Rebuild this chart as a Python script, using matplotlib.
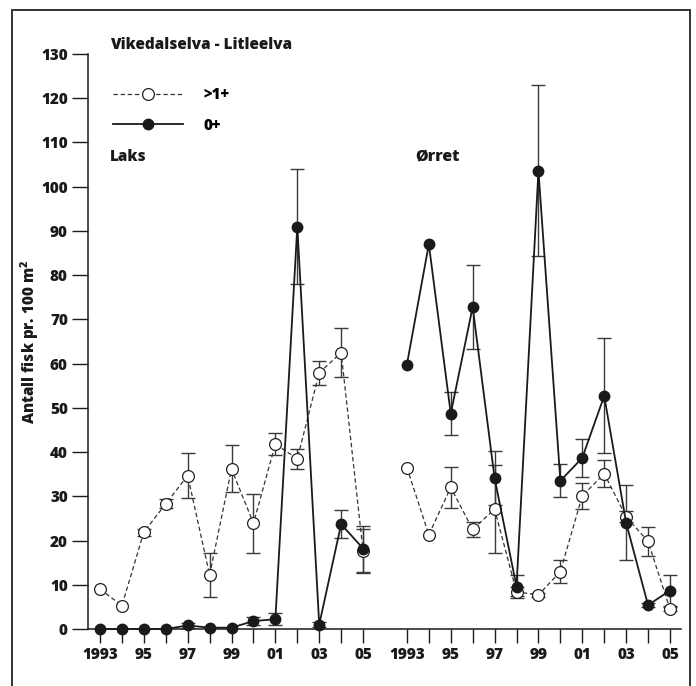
import numpy as np
import matplotlib
matplotlib.use("Agg")
import matplotlib.pyplot as plt
from matplotlib.lines import Line2D
from matplotlib.patches import Rectangle

# ---- data ----
year_labels = ["1993", "", "95", "", "97", "", "99", "", "01", "", "03", "", "05"]

laks_older = [9.0, 5.3, 21.9, 28.3, 34.7, 12.2, 36.2, 23.9, 41.8, 38.5, 57.9, 62.5, 17.6]
laks_older_err = [0, 0, 0.8, 1.0, 5.0, 5.0, 5.3, 6.7, 2.5, 2.3, 2.7, 5.5, 5.0]
laks_0 = [0, 0, 0, 0, 0.8, 0.3, 0.3, 1.8, 2.2, 91.0, 1.0, 23.7, 18.2]
laks_0_err = [0, 0, 0, 0, 0.5, 0, 0, 1.0, 1.4, 13.0, 0.5, 3.2, 5.2]

orret_older = [36.5, 21.3, 32.0, 22.5, 27.1, 8.4, 7.7, 13.0, 30.1, 35.1, 25.4, 19.8, 4.5]
orret_older_err = [0, 0, 4.7, 1.8, 10.0, 1.0, 0.5, 2.7, 3.0, 3.0, 1.3, 3.3, 0.5]
orret_0 = [59.8, 87.0, 48.7, 72.8, 34.1, 9.6, 103.6, 33.5, 38.7, 52.7, 24.0, 5.4, 8.7]
orret_0_err = [0, 0, 4.9, 9.5, 6.1, 2.5, 19.3, 3.7, 4.3, 13.0, 8.5, 0.5, 3.4]

yticks = list(range(0, 131, 10))

FONT = "Open Sans"
plt.rcParams["font.family"] = [FONT, "DejaVu Sans"]
plt.rcParams["font.weight"] = "heavy"
plt.rcParams["mathtext.fontset"] = "custom"
plt.rcParams["mathtext.rm"] = FONT + ":heavy"
plt.rcParams["mathtext.bf"] = FONT + ":heavy"

FS = 11
TXT = "#1a1a1a"

fig = plt.figure(figsize=(6.96, 6.86), dpi=100)
ax = fig.add_axes([88 / 696, 57 / 686, (680.5 - 88) / 696, (629 - 54) / 686])

n = len(year_labels)
x_laks = np.arange(n)
x_orret = np.arange(n) + n + 1

ecol = "#3a3a3a"


def draw(x, older, older_err, young, young_err):
    older = np.asarray(older, float)
    older_err = np.asarray(older_err, float)
    young = np.asarray(young, float)
    young_err = np.asarray(young_err, float)
    m = older_err > 0
    ax.errorbar(x[m], older[m], yerr=older_err[m], fmt="none", ecolor=ecol,
                elinewidth=1.0, capsize=5, capthick=1.0, zorder=2, clip_on=False)
    m = young_err > 0
    ax.errorbar(x[m], young[m], yerr=young_err[m], fmt="none", ecolor=ecol,
                elinewidth=1.0, capsize=5, capthick=1.0, zorder=2, clip_on=False)
    ax.plot(x, older, ls=(0, (3.5, 2.2)), lw=0.9, color="#333333", marker="o",
            ms=8.5, mfc="white", mec="#222222", mew=0.9, zorder=3, clip_on=False)
    ax.plot(x, young, ls="-", lw=1.3, color=TXT, marker="o",
            ms=7.5, mfc=TXT, mec=TXT, zorder=4, clip_on=False)


draw(x_laks, laks_older, laks_older_err, laks_0, laks_0_err)
draw(x_orret, orret_older, orret_older_err, orret_0, orret_0_err)

ax.set_xlim(-0.547, 26.48)
ax.set_ylim(0, 130)
ax.set_yticks(yticks)
ax.set_yticklabels([str(v) for v in yticks])
xt = np.concatenate([x_laks, x_orret])
ax.set_xticks(xt)
ax.set_xticklabels(year_labels + year_labels)

for s in ["top", "right"]:
    ax.spines[s].set_visible(False)
for s in ["left", "bottom"]:
    ax.spines[s].set_linewidth(1.1)
    ax.spines[s].set_color(TXT)

ax.tick_params(axis="y", direction="out", length=11.5, width=1.0, pad=3,
               labelsize=FS, colors=TXT)
ax.tick_params(axis="x", direction="out", length=10, width=1.0, pad=3,
               labelsize=FS, colors=TXT)
for lab in ax.get_xticklabels() + ax.get_yticklabels():
    lab.set_fontweight("heavy")

ax.set_ylabel(r"Antall fisk pr. 100 m$^{\mathbf{2}}$", fontsize=FS,
              fontweight="heavy", color=TXT, labelpad=0)

# texts
fig.text(110 / 696, 1 - 45 / 686, "Vikedalselva - Litleelva", fontsize=FS,
         fontweight="heavy", va="center", ha="left", color=TXT)
fig.text(110 / 696, 1 - 157 / 686, "Laks", fontsize=FS,
         fontweight="heavy", va="center", ha="left", color=TXT)
fig.text(415 / 696, 1 - 157 / 686, "Ørret", fontsize=FS + 0.5,
         fontweight="heavy", va="center", ha="left", color=TXT)

handles = [
    Line2D([], [], ls=(0, (3.5, 2.2)), lw=0.9, color="#333333", marker="o",
           ms=8.5, mfc="white", mec="#222222", mew=0.9),
    Line2D([], [], ls="-", lw=1.3, color=TXT, marker="o",
           ms=7.5, mfc=TXT, mec=TXT),
]
leg = fig.legend(handles, [">1+", "0+"], loc="upper left",
                 bbox_to_anchor=(113 / 696, 1 - 87 / 686), frameon=False,
                 borderpad=0, borderaxespad=0, handlelength=4.6,
                 handletextpad=1.3, labelspacing=0.95, numpoints=1,
                 prop={"size": FS, "weight": "heavy"})

# figure frame (left, top, right)
fig.add_artist(Rectangle((12 / 696, -0.05), (690 - 12) / 696, 1.05 - 10 / 686,
                         transform=fig.transFigure, fill=False,
                         edgecolor="#333333", lw=1.4))

fig.savefig("out.png", dpi=100)
